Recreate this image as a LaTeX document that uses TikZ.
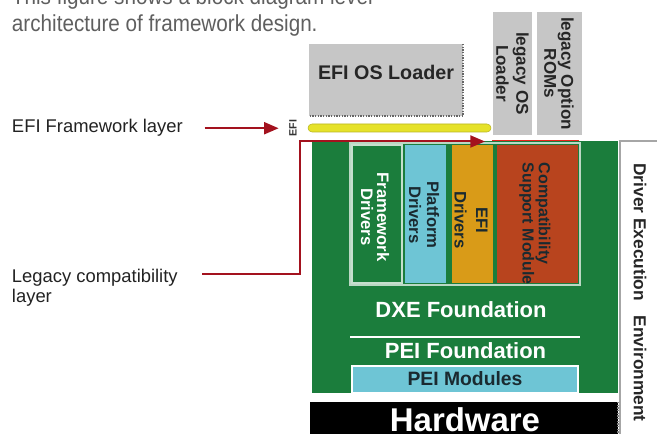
\documentclass[tikz,border=0pt]{standalone}
\usepackage{fontspec}
\setmainfont{Liberation Sans}
\usetikzlibrary{arrows.meta,fit}
\definecolor{gbox}{HTML}{C6C6C6}
\definecolor{dgreen}{HTML}{1B7D3C}
\definecolor{lblue}{HTML}{6EC5D5}
\definecolor{gold}{HTML}{D99B18}
\definecolor{rust}{HTML}{B8441E}
\definecolor{ybar}{HTML}{E6E22A}
\definecolor{redl}{HTML}{E8241C}
\definecolor{darr}{HTML}{A3121E}
\definecolor{txtg}{HTML}{5F5F5F}
\definecolor{lbl}{HTML}{222222}
\definecolor{txtd}{HTML}{1A2A30}
\begin{document}
\begin{tikzpicture}[x=0.75pt,y=-0.75pt,
  every node/.style={inner sep=0pt, outer sep=0pt},
  blk/.style={inner sep=0pt, outer sep=0pt, draw=none},
  lbltext/.style={font=\fontsize{13.8}{17}\selectfont, text=lbl},
  toptext/.style={font=\fontsize{15.5}{19}\selectfont, text=txtg, yscale=1.12},
  rot/.style={rotate=-90, align=center, text=txtd},
  conn/.style={draw=darr, line width=1.7pt, -{Triangle[length=11pt,width=9pt]}},
]
\useasboundingbox (0,0) rectangle (657,434);

% top text
\node[toptext, anchor=base west] (t1) at (12,5) {This figure shows a block diagram level};
\node[toptext, anchor=base west] (t2) at (12,32) {architecture of framework design.};

% upper gray boxes
\node[blk, fill=gbox, fit={(309,44)(463,116)}, font=\bfseries\fontsize{14.8}{17}\selectfont, text=black!85] (osl) {EFI OS Loader};
\draw[black!60, densely dotted, line width=1pt] (osl.north east) -- (osl.south east) -- (osl.south west);
\node[blk, fill=gbox, fit={(493,12)(532,135)}] (lol) {};
\node[rot, text=black!85, font=\bfseries\fontsize{12.8}{15}\selectfont] (loltxt) at (lol.center) {legacy OS\\Loader};
\node[blk, fill=gbox, fit={(537,12)(582,135)}] (lor) {};
\node[rot, text=black!85, font=\bfseries\fontsize{12.8}{12.8}\selectfont] (lortxt) at (559,73.5) {legacy Option\\ROMs};

% EFI layer bar
\node[blk, fill=ybar, draw=ybar!80!black, line width=0.4pt, rounded corners=3pt, fit={(308,124)(491,132)}] (ybar) {};
\node[rotate=90, text=black!80, font=\bfseries\fontsize{8}{8}\selectfont] (efi) at (293,128) {EFI};
\node[blk, fill=redl, fit={(492,140.5)(579,143.5)}] (redline) {};

% DXE block
\node[blk, fill=dgreen, fit={(312,141)(618,393)}] (dxe) {};
\node[blk, draw=white!70!dgreen, line width=0.8pt, fit={(350,143)(580,285)}] (grp) {};
\node[blk, fill=dgreen, draw=white!75!dgreen, line width=0.8pt, fit={(352,145)(402,283)}] (fwd) {};
\node[blk, fill=lblue, fit={(405,145)(446,283)}] (pd) {};
\node[blk, fill=gold, fit={(452,145)(493,283)}] (ed) {};
\node[blk, fill=rust, fit={(497,145)(578,283)}] (csm) {};

\node[rot, text=white, font=\bfseries\fontsize{12.5}{12}\selectfont] (fwdt) at (375,217) {Framework\\Drivers};
\node[rot, font=\bfseries\fontsize{12.5}{13.5}\selectfont] (pdt) at (424,215) {Platform\\Drivers};
\node[rot, font=\bfseries\fontsize{12.5}{16}\selectfont] (edt) at (471,220) {EFI\\Drivers};
\node[rot, align=left, anchor=west, font=\bfseries\fontsize{12}{11}\selectfont] (cst) at (535,163) {Compatibility\\Support Module};

\node[anchor=base, text=white, font=\bfseries\fontsize{16.5}{18}\selectfont] (dxet) at (461,318) {DXE Foundation};
\node[blk, fill=white, fit={(350,336.2)(580,337.8)}] (sep) {};
\node[anchor=base, text=white, font=\bfseries\fontsize{16.5}{18}\selectfont] (peit) at (465.5,359) {PEI Foundation};
\node[blk, fill=lblue, draw=white, line width=1.2pt, fit={(352,366)(578,393)}] (peim) {};
\node[anchor=base, text=txtd, font=\bfseries\fontsize{14.5}{16}\selectfont] (peimt) at (465,386) {PEI Modules};

% hardware
\node[blk, fill=black, fit={(310,402)(618,445)}] (hw) {};
\draw[gray, densely dotted, line width=1pt] (hw.north east) -- (hw.south east);
\node[anchor=base, text=white, font=\bfseries\fontsize{24.7}{28}\selectfont] (hwt) at (465,432) {Hardware};

% DXE environment side box
\node[blk, fill=white, draw=gray!70, line width=0.8pt, fit={(620,141)(672,445)}] (dee) {};
\node[rot, text=black!85, font=\bfseries\fontsize{13}{15}\selectfont] (deet) at (640,292.5) {Driver Execution\hspace*{11pt}Environment};

% labels and arrows
\node[lbltext, anchor=base west] (fwl) at (12,133) {EFI Framework layer};
\node[lbltext, anchor=base west] (lcl1) at (12,283) {Legacy compatibility};
\node[lbltext, anchor=base west] (lcl2) at (12,303) {layer};

\draw[conn] ([xshift=16.5pt]fwl.east) -- ([xshift=-8pt]efi.north |- fwl.east);
\coordinate (lcbend) at (300,0);
\coordinate (lctip) at (485,141.5);
\draw[conn, line width=1.5pt] ([xshift=18.3pt,yshift=3pt]lcl1.east) -| (lcbend |- lctip) -- (lctip);
\end{tikzpicture}
\end{document}
